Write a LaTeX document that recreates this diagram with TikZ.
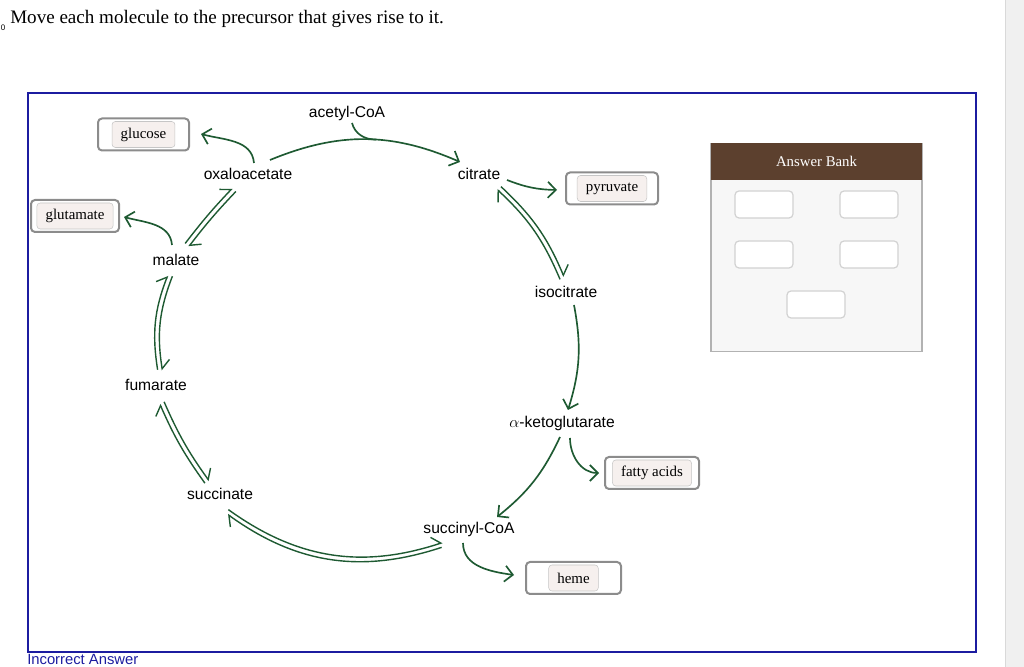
\documentclass[tikz,border=0pt]{standalone}
\usepackage{fontspec}
\setmainfont{Liberation Serif}
\setsansfont{Liberation Sans}
\usepackage{tikz}
\usetikzlibrary{arrows.meta,calc}

\definecolor{rxngreen}{RGB}{30,90,50}
\definecolor{frameblue}{RGB}{28,28,160}
\definecolor{chipfill}{RGB}{246,240,238}
\definecolor{bankbrown}{RGB}{92,64,46}
\definecolor{bankbg}{RGB}{247,247,247}

% two opposite harpoons between #1 and #2
\newcommand{\eqpair}[3]{%
  \draw[eqarrow] ($(#1)!1.8pt!90:(#2)$) to[bend left=#3] ($(#2)!1.8pt!-90:(#1)$);
  \draw[eqarrow] ($(#2)!1.8pt!90:(#1)$) to[bend right=#3] ($(#1)!1.8pt!-90:(#2)$);
}

\begin{document}
\begin{tikzpicture}[
  x=0.75pt, y=0.75pt,
  mol/.style={font=\fontsize{11.7}{14}\sffamily, inner sep=2pt},
  slot/.style={draw=gray!90, line width=1.5pt, rounded corners=3pt,
               fill=white, minimum height=24pt},
  chip/.style={draw=gray!45, fill=chipfill, rounded corners=2.5pt,
               font=\fontsize{11.2}{13}\selectfont, inner xsep=6.5pt,
               inner ysep=0pt, minimum height=19.5pt},
  rxn/.style={draw=rxngreen, line width=1.25pt,
              -{Straight Barb[length=6pt,width=12pt]}},
  eqarrow/.style={draw=rxngreen, line width=1.05pt,
                  -{Straight Barb[harpoon,length=6pt,width=13pt]}},
  bankslot/.style={draw=gray!35, fill=white, rounded corners=3pt,
                   line width=0.9pt, minimum width=43.5pt, minimum height=20.25pt}
]
  \useasboundingbox (0,0) rectangle (1024,667);
  \fill[gray!12] (1005,0) rectangle (1024,667);
  \draw[gray!30] (1005,0) -- (1005,667);

  \node[anchor=base west, inner sep=0, font=\fontsize{14.3}{17}\selectfont]
    (title) at (10,643) {Move each molecule to the precursor that gives rise to it.};
  \node[inner sep=0, font=\fontsize{6}{7}\sffamily] (mark) at (3,639) {0};

  \draw[frameblue, line width=1.6pt] (28,15) rectangle (976,574);
  \node[anchor=base west, inner sep=0, text=frameblue,
    font=\fontsize{11.1}{13}\sffamily] (verdict) at (27,2.5) {Incorrect Answer};

  % cycle
  \node[mol] (ac)   at (347,554) {acetyl-CoA};
  \node[mol] (ox)   at (248,493) {oxaloacetate};
  \node[mol] (cit)  at (479,493) {citrate};
  \node[mol] (mal)  at (176,407) {malate};
  \node[mol] (iso)  at (566,375) {isocitrate};
  \node[mol] (fum)  at (156,282) {fumarate};
  \node[mol] (akg)  at (562,244) {$\alpha$-ketoglutarate};
  \node[mol] (suc)  at (220,173) {succinate};
  \node[mol] (scoa) at (469,138) {succinyl-CoA};

  % drop targets
  \node[slot, minimum width=68.25pt] (glc) at (143.5,532.5) {};
  \node[chip] at (glc) {glucose};
  \node[slot, minimum width=66pt] (glu) at (75,451) {};
  \node[chip] at (glu) {glutamate};
  \node[slot, minimum width=69pt] (pyr) at (612,478.5) {};
  \node[chip] at (pyr) {pyruvate};
  \node[slot, minimum width=70.5pt] (fat) at (652,194) {};
  \node[chip] at (fat) {fatty acids};
  \node[slot, minimum width=71.25pt] (hem) at (573.5,89) {};
  \node[chip] at (hem) {heme};

  \draw[rxn] ([shift={(22,14)}]ox.center) to[bend left=23]
    coordinate[pos=0.56] (join) ([shift={(-19,12)}]cit.center);
  \draw[rxn, -] ([shift={(5,-10)}]ac.center) to[out=-75, in=180] (join);
  \draw[rxn] ([shift={(6,11)}]ox.center) to[out=95, in=-15] ([shift={(11,0.5)}]glc.east);
  \draw[rxn] ([shift={(-4,15)}]mal.center) to[out=95, in=-15] ([shift={(4,-1)}]glu.east);
  \draw[rxn] ([shift={(28,-6)}]cit.center) to[bend right=10] ([shift={(-8,-1.5)}]pyr.west);
  \draw[rxn] ([shift={(8,-13)}]iso.center) to[bend left=14] ([shift={(6,13)}]akg.center);
  \draw[rxn] ([shift={(-2,-14)}]akg.center) to[bend left=13] ([shift={(28,12)}]scoa.center);
  \draw[rxn] ([shift={(8,-15)}]akg.center) to[out=-90, in=180] ([shift={(-5,0)}]fat.west);
  \draw[rxn] ([shift={(-6,-14)}]scoa.center) to[out=-90, in=172] ([shift={(-11,3)}]hem.west);

  \eqpair{[shift={(20,-14)}]cit.center}{[shift={(-4,14)}]iso.center}{12}
  \eqpair{[shift={(-27,-16)}]scoa.center}{[shift={(8,-18)}]suc.center}{27}
  \eqpair{[shift={(-13,12)}]suc.center}{[shift={(6,-18)}]fum.center}{6}
  \eqpair{[shift={(4,15)}]fum.center}{[shift={(-6,-16)}]mal.center}{15}
  \eqpair{[shift={(11,15)}]mal.center}{[shift={(-14,-16)}]ox.center}{3}

  % answer bank
  \node[draw=gray!60, fill=bankbg, line width=0.8pt, minimum width=158.25pt,
    minimum height=156pt, anchor=north] (bank) at (816.5,524) {};
  \node[fill=bankbrown, text=white, minimum width=158.25pt, minimum height=27.75pt,
    font=\fontsize{11.1}{13}\selectfont, anchor=north] (bankhd) at (816.5,524) {Answer Bank};
  \foreach \x/\y [count=\i] in {764/462.5, 869/462.5, 764/412.5, 869/412.5, 816/362.5}
    \node[bankslot] (slot\i) at (\x,\y) {};
\end{tikzpicture}
\end{document}
